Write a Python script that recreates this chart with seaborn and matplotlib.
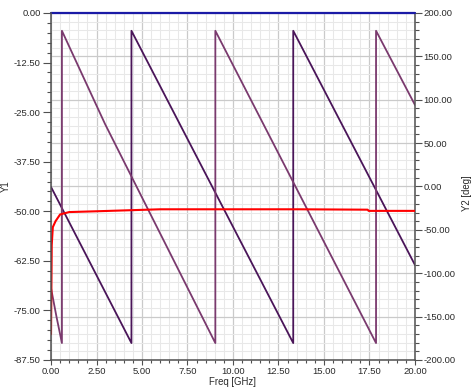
"""Two-axis sweep plot: Y1 (left) and phase Y2 [deg] (right) vs frequency."""
import matplotlib
matplotlib.use("Agg")
import matplotlib.pyplot as plt
import matplotlib.ticker as tck
import seaborn as sns

# traces
freq_blue = [0.0, 20.0]
y1_blue = [0.0, 0.0]

freq_red = [0.0, 0.02, 0.04, 0.1, 0.25, 0.5, 1.0, 2.5, 6.0, 13.6, 17.4, 17.45, 20.0]
y1_red = [-81.0, -70.0, -58.5, -54.0, -52.5, -50.8, -50.2, -50.0, -49.5, -49.5, -49.6, -49.9, -49.9]

freq_dark = [0.0, 4.42, 4.42, 13.31, 13.31, 20.0]
phase_dark = [-0.5, -180.5, 179.5, -180.5, 179.5, -90.5]

freq_light = [0.0, 0.3, 0.6, 0.6, 2.97, 9.03, 9.03, 17.86, 17.86, 20.0]
phase_light = [-117.0, -150.0, -180.5, 179.5, 72.0, -180.5, 179.5, -180.5, 179.5, 94.0]

x_ticks = [0.0, 2.5, 5.0, 7.5, 10.0, 12.5, 15.0, 17.5, 20.0]
y1_ticks = [0.0, -12.5, -25.0, -37.5, -50.0, -62.5, -75.0, -87.5]
y2_ticks = [200.0, 150.0, 100.0, 50.0, 0.0, -50.0, -100.0, -150.0, -200.0]

DARK = "#4a1559"
LIGHT = "#7a3a6e"
TXT = "#2a2a2a"
AXC = "#505050"


def main():
    make_plot("out.png")


def make_plot(fig_name):
    sns.set_theme(style="white")
    plt.rcParams["font.family"] = ["Liberation Sans", "DejaVu Sans"]
    plt.rcParams["axes.unicode_minus"] = False

    fig, ax = plt.subplots(figsize=(4.74, 3.89), dpi=100)
    fig.subplots_adjust(left=0.1076, right=0.8755, top=0.9666, bottom=0.0746)
    ax2 = ax.twinx()

    # Y1 axes on top (transparent), phase axes below with the grid
    ax.set_zorder(2)
    ax.patch.set_visible(False)
    ax2.set_zorder(1)
    ax2.patch.set_visible(True)
    ax2.patch.set_facecolor("white")

    sns.lineplot(x=freq_dark, y=phase_dark, ax=ax2, color=DARK, lw=1.3,
                 sort=False, estimator=None)
    sns.lineplot(x=freq_light, y=phase_light, ax=ax2, color=LIGHT, lw=1.3,
                 sort=False, estimator=None)
    sns.lineplot(x=freq_red, y=y1_red, ax=ax, color="#ff0000", lw=1.5,
                 sort=False, estimator=None)
    sns.lineplot(x=freq_blue, y=y1_blue, ax=ax, color="#1a1aa6", lw=1.6,
                 sort=False, estimator=None, clip_on=False)

    ax.set_xlim(x_ticks[0], x_ticks[-1])
    ax.set_ylim(min(y1_ticks), max(y1_ticks))
    ax2.set_ylim(min(y2_ticks), max(y2_ticks))

    ax.xaxis.set_major_locator(tck.FixedLocator(x_ticks))
    ax.xaxis.set_minor_locator(tck.MultipleLocator(0.5))
    ax.yaxis.set_major_locator(tck.FixedLocator(y1_ticks))
    ax.yaxis.set_minor_locator(tck.MultipleLocator(2.5))
    ax2.yaxis.set_major_locator(tck.FixedLocator(y2_ticks))
    ax2.yaxis.set_minor_locator(tck.MultipleLocator(10))
    for a in (ax.xaxis, ax.yaxis, ax2.yaxis):
        a.set_major_formatter(tck.FormatStrFormatter("%.2f"))

    # grid lives on the lower (phase) axes
    ax2.xaxis.set_visible(True)
    ax2.tick_params(axis="x", which="both", bottom=False, top=False,
                    labelbottom=False, labeltop=False)
    ax2.grid(True, which="major", color="#cacaca", lw=0.9)
    ax2.grid(True, which="minor", color="#e8e8e8", lw=0.75)
    ax2.set_axisbelow(True)
    ax.grid(False)

    for s in ("top", "right"):
        ax.spines[s].set_visible(False)
    for s in ("top", "left", "bottom"):
        ax2.spines[s].set_visible(False)
    for sp in (ax.spines["left"], ax.spines["bottom"], ax2.spines["right"]):
        sp.set_color(AXC)
        sp.set_linewidth(1.1)

    ax.tick_params(axis="y", which="major", direction="out", left=True, length=5.8,
                   width=0.8, color=AXC, pad=1.6, labelsize=6.8, labelcolor=TXT)
    ax.tick_params(axis="y", which="minor", direction="out", left=True, length=3.2,
                   width=0.8, color=AXC)
    ax.tick_params(axis="x", which="major", direction="out", bottom=True, length=3.8,
                   width=0.8, color=AXC, pad=1.4, labelsize=6.8, labelcolor=TXT)
    ax.tick_params(axis="x", which="minor", direction="out", bottom=True, length=2.3,
                   width=0.8, color=AXC)
    ax2.tick_params(axis="y", which="major", direction="out", right=True, length=5.0,
                    width=0.8, color=AXC, pad=1.0, labelsize=6.8, labelcolor=TXT)
    ax2.tick_params(axis="y", which="minor", direction="out", right=True, length=2.9,
                    width=0.8, color=AXC)

    ax.set_xlabel("Freq [GHz]", fontsize=6.9, color=TXT)
    ax.set_ylabel("Y1", fontsize=6.9, color=TXT)
    ax2.set_ylabel("Y2 [deg]", fontsize=6.9, color=TXT)
    ax.xaxis.set_label_coords(0.5, -0.048)
    ax.yaxis.set_label_coords(-0.11, 0.5)
    ax2.yaxis.set_label_coords(1.129, 0.48)

    fig.savefig(fig_name, dpi=100)
    plt.close(fig)


if __name__ == "__main__":
    main()
